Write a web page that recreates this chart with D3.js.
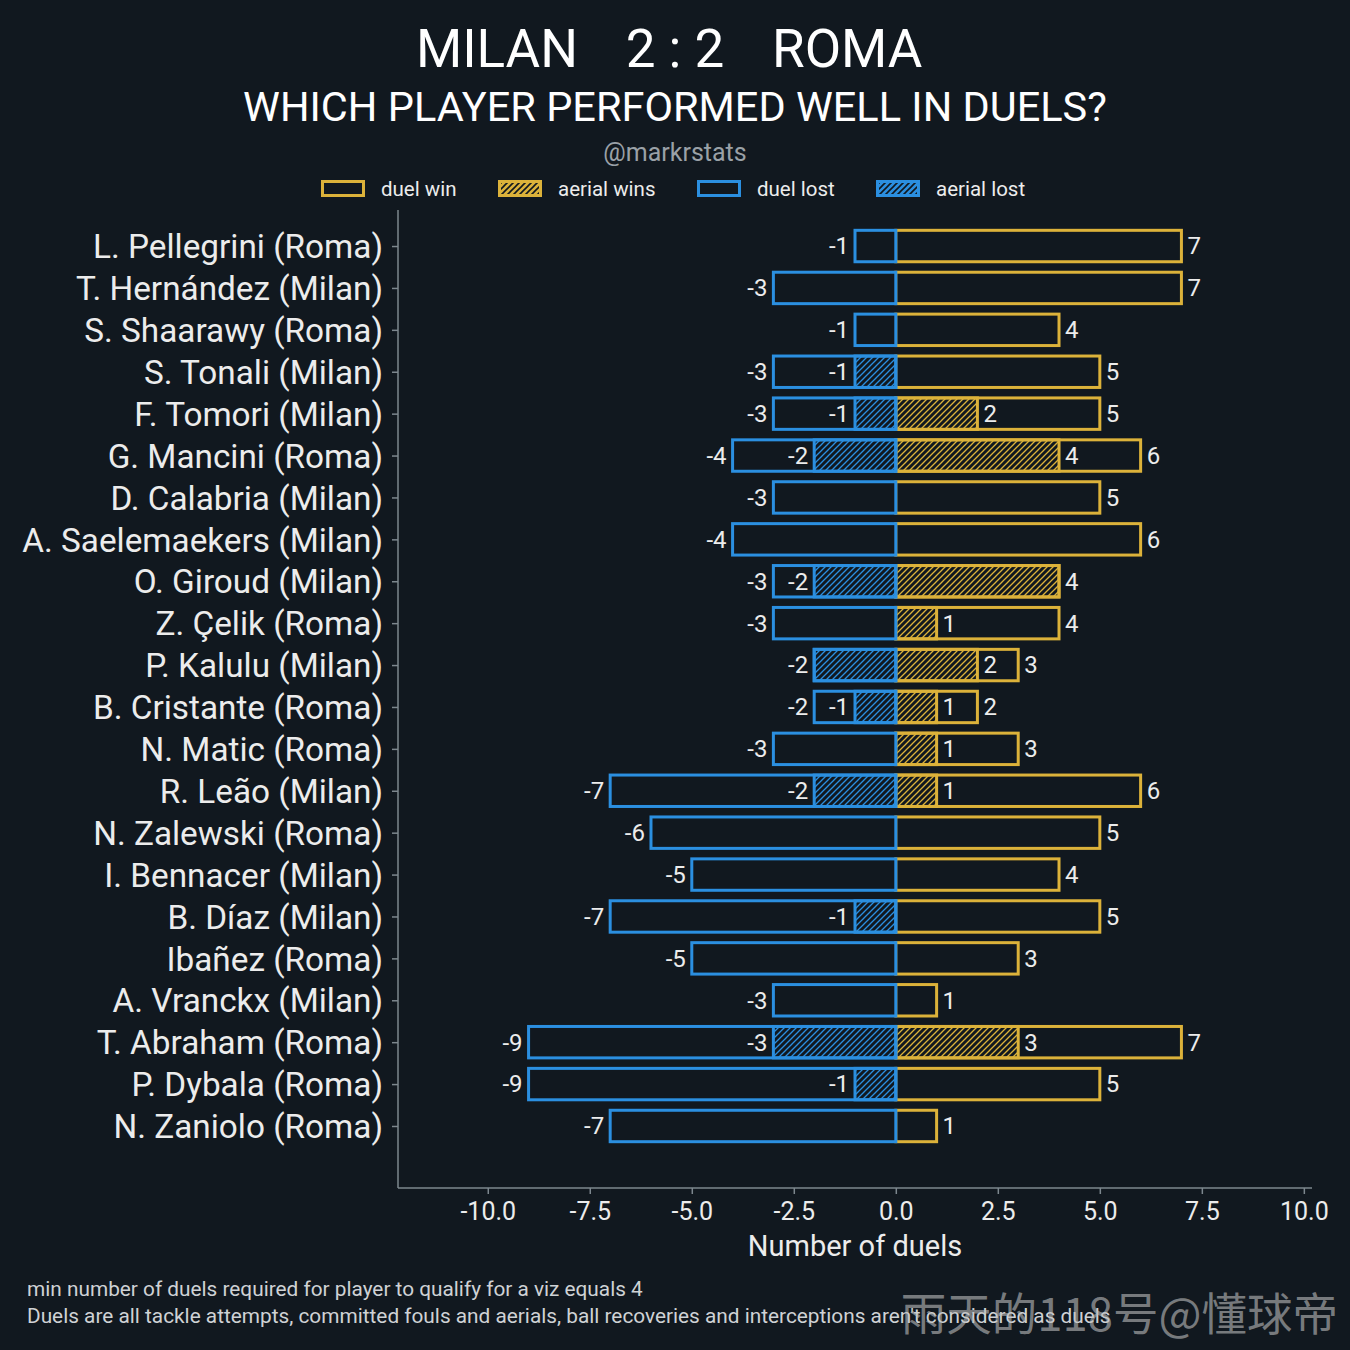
<!DOCTYPE html>
<html>
<head>
<meta charset="utf-8">
<script src="https://cdn.jsdelivr.net/npm/d3@7"></script>
<style>
  html, body { margin: 0; padding: 0; background: #11181f; }
  svg { display: block; font-family: Roboto, "Noto Sans", sans-serif; }
</style>
</head>
<body>
<div id="chart"></div>
<script>
// players in plotting order (top to bottom)
var players = ['L. Pellegrini (Roma)', 'T. Hernández (Milan)', 'S. Shaarawy (Roma)', 'S. Tonali (Milan)',
  'F. Tomori (Milan)', 'G. Mancini (Roma)', 'D. Calabria (Milan)', 'A. Saelemaekers (Milan)',
  'O. Giroud (Milan)', 'Z. Çelik (Roma)', 'P. Kalulu (Milan)', 'B. Cristante (Roma)',
  'N. Matic (Roma)', 'R. Leão (Milan)', 'N. Zalewski (Roma)', 'I. Bennacer (Milan)',
  'B. Díaz (Milan)', 'Ibañez (Roma)', 'A. Vranckx (Milan)', 'T. Abraham (Roma)',
  'P. Dybala (Roma)', 'N. Zaniolo (Roma)'];
var duelWon    = [7, 7, 4, 5, 5, 6, 5, 6, 4, 4, 3, 2, 3, 6, 5, 4, 5, 3, 1, 7, 5, 1];
var aerialWon  = [0, 0, 0, 0, 2, 4, 0, 0, 4, 1, 2, 1, 1, 1, 0, 0, 0, 0, 0, 3, 0, 0];
var duelLost   = [-1, -3, -1, -3, -3, -4, -3, -4, -3, -3, -2, -2, -3, -7, -6, -5, -7, -5, -3, -9, -9, -7];
var aerialLost = [0, 0, 0, -1, -1, -2, 0, 0, -2, 0, -2, -1, 0, -2, 0, 0, -1, 0, 0, -3, -1, 0];
var xTicks = [-10, -7.5, -5, -2.5, 0, 2.5, 5, 7.5, 10];

var gold = '#dcb23a', blue = '#2b8fe0', bg = '#11181f', textCol = '#ececec', spine = '#7d878e';

var W = 1350, H = 1350;
var svg = d3.select('#chart').append('svg').attr('width', W).attr('height', H);
svg.append('rect').attr('width', W).attr('height', H).attr('fill', bg);

// hatch patterns
var defs = svg.append('defs');
function hatch(id, col) {
  var p = defs.append('pattern').attr('id', id)
    .attr('patternUnits', 'userSpaceOnUse').attr('width', 6).attr('height', 6);
  p.append('path').attr('d', 'M0,6 L6,0 M-1.5,1.5 L1.5,-1.5 M4.5,7.5 L7.5,4.5')
    .attr('stroke', col).attr('stroke-width', 1.3);
}
hatch('hatchGold', gold);
hatch('hatchBlue', blue);
// legend versions: coloured fill, dark hatch
function hatchInv(id, col) {
  var p = defs.append('pattern').attr('id', id)
    .attr('patternUnits', 'userSpaceOnUse').attr('width', 6).attr('height', 6);
  p.append('rect').attr('width', 6).attr('height', 6).attr('fill', col);
  p.append('path').attr('d', 'M0,6 L6,0 M-1.5,1.5 L1.5,-1.5 M4.5,7.5 L7.5,4.5')
    .attr('stroke', bg).attr('stroke-width', 1.6);
}
hatchInv('legGold', gold);
hatchInv('legBlue', blue);

var x = d3.scaleLinear().domain([-12.2, 10.2]).range([398, 1312]);
var y = d3.scaleLinear().domain([-0.86, players.length - 1 + 1.48]).range([210, 1188]);
var bandH = (y(1) - y(0)) * 0.75;

var data = players.map(function (p, i) {
  return { name: p, i: i, dw: duelWon[i], aw: aerialWon[i], dl: duelLost[i], al: aerialLost[i] };
});

// titles
var title = svg.append('g').attr('fill', '#ffffff').attr('font-size', 53);
title.append('text').attr('x', 578).attr('y', 67).attr('text-anchor', 'end').text('MILAN');
title.append('text').attr('x', 675).attr('y', 67).attr('text-anchor', 'middle').text('2 : 2');
title.append('text').attr('x', 772).attr('y', 67).attr('text-anchor', 'start').text('ROMA');
svg.append('text').attr('x', 675).attr('y', 121).attr('text-anchor', 'middle')
  .attr('fill', '#ffffff').attr('font-size', 41.5)
  .text('WHICH PLAYER PERFORMED WELL IN DUELS?');
svg.append('text').attr('x', 675).attr('y', 161).attr('text-anchor', 'middle')
  .attr('fill', '#9aa1a7').attr('font-size', 25)
  .text('@markrstats');

// legend
var legendItems = [
  { label: 'duel win', stroke: gold, fill: bg, x: 321 },
  { label: 'aerial wins', stroke: gold, fill: 'url(#legGold)', x: 498 },
  { label: 'duel lost', stroke: blue, fill: bg, x: 697 },
  { label: 'aerial lost', stroke: blue, fill: 'url(#legBlue)', x: 876 }
];
var leg = svg.append('g').selectAll('g').data(legendItems).enter().append('g');
leg.append('rect')
  .attr('x', function (d) { return d.x + 1.5; }).attr('y', 181.5)
  .attr('width', 41).attr('height', 14)
  .attr('fill', function (d) { return d.fill; })
  .attr('stroke', function (d) { return d.stroke; }).attr('stroke-width', 3);
leg.append('text')
  .attr('x', function (d) { return d.x + 60; }).attr('y', 196)
  .attr('fill', textCol).attr('font-size', 20.5)
  .text(function (d) { return d.label; });

// axes
var gx = svg.append('g').attr('transform', 'translate(0,1188)')
  .call(d3.axisBottom(x).tickValues(xTicks).tickFormat(d3.format('.1f')).tickSize(6).tickPadding(8));
gx.select('.domain').attr('stroke', spine).attr('stroke-width', 1.5)
  .attr('d', 'M398,0H1312');
gx.selectAll('.tick line').attr('stroke', spine).attr('stroke-width', 1.5);
gx.selectAll('.tick text').attr('fill', textCol).attr('font-size', 25)
  .attr('font-family', 'Roboto, sans-serif')
  .text(function (d) { return d3.format('.1f')(d).replace('−', '-'); });

var gy = svg.append('g').attr('transform', 'translate(398,0)')
  .call(d3.axisLeft(y).tickValues(d3.range(players.length))
    .tickFormat(function (i) { return players[i]; }).tickSize(6).tickPadding(9));
gy.select('.domain').attr('stroke', spine).attr('stroke-width', 1.5)
  .attr('d', 'M0,210V1188');
gy.selectAll('.tick line').attr('stroke', spine).attr('stroke-width', 1.5);
gy.selectAll('.tick text').attr('fill', textCol).attr('font-size', 33.3)
  .attr('font-family', 'Roboto, sans-serif').attr('dy', '0.35em');

svg.append('text').attr('x', 855).attr('y', 1256).attr('text-anchor', 'middle')
  .attr('fill', textCol).attr('font-size', 29).text('Number of duels');

// bars
var plot = svg.append('g');
function bars(key, col, fill) {
  plot.selectAll('.b-' + key).data(data.filter(function (d) { return d[key] !== 0; }))
    .enter().append('rect')
    .attr('class', 'b-' + key)
    .attr('x', function (d) { return Math.min(x(0), x(d[key])); })
    .attr('width', function (d) { return Math.abs(x(d[key]) - x(0)); })
    .attr('y', function (d) { return y(d.i) - bandH / 2; })
    .attr('height', bandH)
    .attr('fill', fill).attr('stroke', col).attr('stroke-width', 3);
}
bars('dw', gold, bg);
bars('aw', gold, 'url(#hatchGold)');
bars('dl', blue, bg);
bars('al', blue, 'url(#hatchBlue)');

// value labels
function labels(key, skipKey) {
  plot.selectAll('.l-' + key).data(data.filter(function (d) {
      return d[key] !== 0 && !(skipKey && d[skipKey] === d[key]);
    }))
    .enter().append('text')
    .attr('x', function (d) { return d[key] > 0 ? x(d[key]) + 6 : x(d[key]) - 6; })
    .attr('y', function (d) { return y(d.i); })
    .attr('dy', '0.35em')
    .attr('text-anchor', function (d) { return d[key] > 0 ? 'start' : 'end'; })
    .attr('fill', textCol).attr('font-size', 24)
    .text(function (d) { return d[key] < 0 ? '-' + Math.abs(d[key]) : d[key]; });
}
labels('dw');
labels('aw', 'dw');
labels('dl');
labels('al', 'dl');

// footer notes
svg.append('text').attr('x', 27).attr('y', 1296).attr('fill', '#cfd2d5').attr('font-size', 20.8)
  .text('min number of duels required for player to qualify for a viz equals 4');
svg.append('text').attr('x', 27).attr('y', 1323).attr('fill', '#cfd2d5').attr('font-size', 20.8)
  .text('Duels are all tackle attempts, committed fouls and aerials, ball recoveries and interceptions aren\'t considered as duels');

// watermark
svg.append('text').attr('x', 1338).attr('y', 1331).attr('text-anchor', 'end')
  .attr('font-family', '"Noto Sans CJK SC", sans-serif')
  .attr('fill', 'rgba(190,190,190,0.6)').attr('font-size', 45.5)
  .text('雨天的118号@懂球帝');
</script>
</body>
</html>
